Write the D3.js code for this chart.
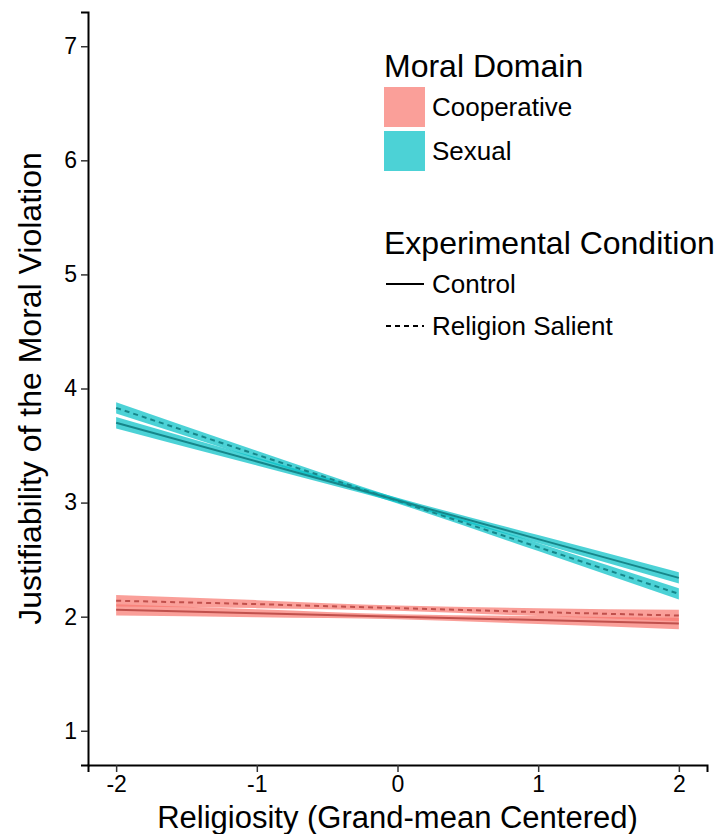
<!doctype html>
<html lang="en">
<head>
    <meta charset="utf-8">
    <title>Religiosity and moral violation</title>
    <style>
        body { margin: 0; background: #fff; }
        svg text { font-family: "Liberation Sans", Arial, sans-serif; fill: #000; }
    </style>
</head>
<body>
    <div id="chart"></div>
    <script src="https://d3js.org/d3.v7.min.js"></script>
    <script>
        // values
        var xs = [-2, -1, 0, 1, 2];
        var sexControl = [3.70, 3.36, 3.02, 2.68, 2.34];
        var sexSalient = [3.83, 3.42, 3.015, 2.61, 2.20];
        var coopControl = [2.06, 2.03, 2.00, 1.97, 1.94];
        var coopSalient = [2.14, 2.11, 2.075, 2.04, 2.01];
        var halfBand = [0.05, 0.035, 0.022, 0.035, 0.05];
        var xTicks = [-2, -1, 0, 1, 2];
        var yTicks = [1, 2, 3, 4, 5, 6, 7];

        var domains = ["Cooperative", "Sexual"];
        var conditions = ["Control", "Religion Salient"];

        var width = 719, height = 834;
        var margin = {top: 12, right: 12, bottom: 69, left: 88};

        var svg = d3.select("#chart").append("svg")
            .attr("width", width)
            .attr("height", height);

        var x = d3.scaleLinear().domain([-2.2, 2.2]).range([margin.left, width - margin.right]);
        var y = d3.scaleLinear().domain([0.7, 7.3]).range([height - margin.bottom, margin.top]);

        var fill = d3.scaleOrdinal().domain(domains).range(["#F8766D", "#00BFC4"]);
        var lineCol = d3.scaleOrdinal().domain(domains).range(["#C0504C", "#16868A"]);

        var series = [
            {domain: "Cooperative", cond: "Control", vals: coopControl},
            {domain: "Cooperative", cond: "Religion Salient", vals: coopSalient},
            {domain: "Sexual", cond: "Control", vals: sexControl},
            {domain: "Sexual", cond: "Religion Salient", vals: sexSalient}
        ];

        var area = d3.area()
            .x(function(d) { return x(d.x); })
            .y0(function(d) { return y(d.v - d.h); })
            .y1(function(d) { return y(d.v + d.h); })
            .curve(d3.curveMonotoneX);

        var line = d3.line()
            .x(function(d) { return x(d.x); })
            .y(function(d) { return y(d.v); });

        series.forEach(function(s) {
            var pts = xs.map(function(xv, i) { return {x: xv, v: s.vals[i], h: halfBand[i]}; });
            svg.append("path")
                .attr("d", area(pts))
                .attr("fill", fill(s.domain))
                .attr("fill-opacity", 0.7);
        });

        series.forEach(function(s) {
            var pts = xs.map(function(xv, i) { return {x: xv, v: s.vals[i]}; });
            svg.append("path")
                .attr("d", line(pts))
                .attr("fill", "none")
                .attr("stroke", lineCol(s.domain))
                .attr("stroke-width", 2)
                .attr("stroke-dasharray", s.cond == "Control" ? null : "5,4");
        });

        // axes (plain hyphen for negatives, like the original)
        var fmt = function(d) { return String(d); };
        var xAxis = svg.append("g")
            .attr("transform", "translate(0," + (height - margin.bottom) + ")")
            .call(d3.axisBottom(x).tickValues(xTicks).tickSize(7).tickPadding(4).tickFormat(fmt));
        var yAxis = svg.append("g")
            .attr("transform", "translate(" + margin.left + ",0)")
            .call(d3.axisLeft(y).tickValues(yTicks).tickSize(7).tickPadding(4).tickFormat(fmt));

        [xAxis, yAxis].forEach(function(a) {
            a.select(".domain").attr("stroke", "#000").attr("stroke-width", 2);
            a.selectAll(".tick line").attr("stroke", "#333").attr("stroke-width", 1.5);
            a.selectAll(".tick text").style("font-size", "23px").attr("fill", "#111");
        });

        svg.append("text")
            .attr("x", x(0))
            .attr("y", 828)
            .attr("text-anchor", "middle")
            .style("font-size", "31px")
            .text("Religiosity (Grand-mean Centered)");

        svg.append("text")
            .attr("transform", "translate(41," + y(4) + ") rotate(-90)")
            .attr("text-anchor", "middle")
            .style("font-size", "32px")
            .text("Justifiability of the Moral Violation");

        // legends
        var lg = svg.append("g").attr("transform", "translate(384,0)");
        lg.append("text").attr("x", 0).attr("y", 77).style("font-size", "32px").text("Moral Domain");
        domains.forEach(function(d, i) {
            lg.append("rect")
                .attr("x", 0).attr("y", 87 + i * 44)
                .attr("width", 41).attr("height", 40)
                .attr("fill", fill(d)).attr("fill-opacity", 0.7);
            lg.append("text")
                .attr("x", 48).attr("y", 107 + i * 44)
                .attr("dy", "0.35em")
                .style("font-size", "26px")
                .text(d);
        });

        lg.append("text").attr("x", 0).attr("y", 254).style("font-size", "32px").text("Experimental Condition");
        conditions.forEach(function(c, i) {
            lg.append("line")
                .attr("x1", 2).attr("x2", 40)
                .attr("y1", 284 + i * 42).attr("y2", 284 + i * 42)
                .attr("stroke", "#000").attr("stroke-width", 2)
                .attr("stroke-dasharray", i == 0 ? null : "5,4");
            lg.append("text")
                .attr("x", 48).attr("y", 284 + i * 42)
                .attr("dy", "0.35em")
                .style("font-size", "26px")
                .text(c);
        });
    </script>
</body>
</html>
